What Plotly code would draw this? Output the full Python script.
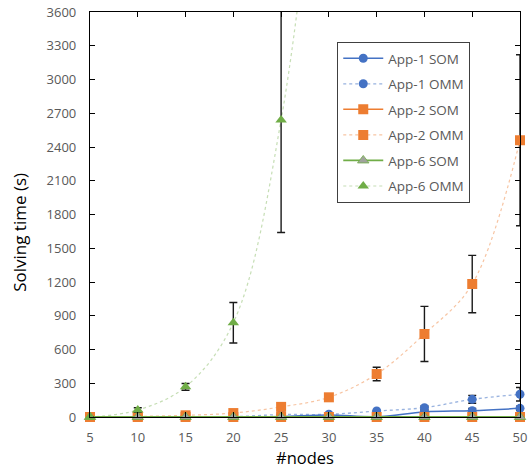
import plotly.graph_objects as go

nodes = [5, 10, 15, 20, 25, 30, 35, 40, 45, 50]

app1_som = [0, 0, 0, 1, 5, 18, 3, 45, 56, 77]
app1_som_err = [0, 0, 0, 0, 0, 0, 0, 10, 20, 20]
app1_omm = [0, 0, 1, 3, 22, 24, 53, 83, 157, 202]
app1_omm_err = [0, 0, 0, 0, 0, 0, 0, 15, 35, 60]

app2_som = [0, 0, 0, 0, 0, 0, 0, 0, 0, 0]
app2_omm = [0, 5, 15, 35, 90, 175, 382, 738, 1182, 2460]
app2_omm_err = [0, 0, 0, 0, 0, 0, 60, 245, 255, 760]

app6_som = [0, 0, 0, 0, 0, 0, 0, 0, 0, 0]
app6_omm = [0, 62, 268, 838, 2640, 6200]
app6_omm_err = [0, 20, 30, 180, 1000, 0]

y_ticks = [0, 300, 600, 900, 1200, 1500, 1800, 2100, 2400, 2700, 3000, 3300, 3600]
y_max = 3600

BLUE = "#4472C4"
ORANGE = "#ED7D31"
GREEN = "#70AD47"

fig = go.Figure()

def err(arr):
    return dict(type="data", array=arr, visible=True, color="#1a1a1a", thickness=1.4, width=4)

def add(name, x, y, color, symbol, dash, lw, lcolor, e=None, mcolor=None, mline=None):
    vis_x = [a for a, b in zip(x, y) if b <= y_max]
    vis_y = [b for b in y if b <= y_max]
    msize = 10 if symbol != "circle" else 9
    fig.add_trace(go.Scatter(
        x=x, y=y, mode="lines", line=dict(color=lcolor, width=lw, dash=dash, shape="spline", smoothing=1.0),
        showlegend=False, hoverinfo="skip", legendgroup=name))
    fig.add_trace(go.Scatter(
        x=vis_x, y=vis_y, mode="markers", name=name, legendgroup=name,
        marker=dict(symbol=symbol, size=msize, color=mcolor or color,
                    line=mline or dict(width=0)),
        error_y=err(e[:len(vis_x)]) if e else None,
        cliponaxis=False, showlegend=False))
    fig.add_trace(go.Scatter(
        x=[None], y=[None], mode="lines+markers", name=name, legendgroup=name,
        line=dict(color=lcolor, width=max(lw, 1.2), dash=dash),
        marker=dict(symbol=symbol, size=msize, color=mcolor or color,
                    line=mline or dict(width=0))))

add("App-1 SOM", nodes, app1_som, BLUE, "circle", "solid", 1.5, BLUE, app1_som_err)
add("App-1 OMM", nodes, app1_omm, BLUE, "circle", "dot", 1.3, "rgba(68,114,196,0.55)", app1_omm_err)
add("App-2 SOM", nodes, app2_som, ORANGE, "square", "solid", 1.5, ORANGE)
add("App-2 OMM", nodes, app2_omm, ORANGE, "square", "dot", 1.2, "rgba(237,125,49,0.45)", app2_omm_err)
add("App-6 SOM", nodes, app6_som, GREEN, "triangle-up", "solid", 1.8, GREEN,
    mcolor="#A0A39C", mline=dict(color="rgba(112,173,71,0.8)", width=1))
add("App-6 OMM", nodes[:len(app6_omm)], app6_omm, GREEN, "triangle-up", "dot", 1.2, "rgba(112,173,71,0.4)", app6_omm_err)

tickfont = dict(family="Open Sans, Liberation Sans, sans-serif", size=13, color="#595959")
titlefont = dict(family="Open Sans, Liberation Sans, sans-serif", size=16.5, color="black")
fig.update_layout(
    width=528, height=468,
    margin=dict(l=90, r=8, t=12, b=51),
    paper_bgcolor="white", plot_bgcolor="white",
    font=dict(family="Open Sans, Liberation Sans, sans-serif"),
    legend=dict(x=0.575, y=0.926, xanchor="left", yanchor="top",
                bordercolor="#404040", borderwidth=1, bgcolor="white",
                font=dict(size=13.5, color="#595959"), tracegroupgap=5,
                traceorder="grouped", itemwidth=40),
    xaxis=dict(range=[5, 50], tickvals=nodes, showline=True, linecolor="black", linewidth=1.2,
               mirror="ticks", ticks="inside", ticklen=5, tickcolor="black", showgrid=False,
               zeroline=False, tickfont=tickfont, ticklabelstandoff=8, automargin=False),
    yaxis=dict(range=[0, y_max], tickvals=y_ticks, showline=True, linecolor="black", linewidth=1.2,
               mirror="ticks", ticks="inside", ticklen=5, tickcolor="black", showgrid=False,
               zeroline=False, tickfont=tickfont, ticklabelstandoff=10, automargin=False),
    annotations=[
        dict(text="#nodes", xref="paper", yref="paper", x=0.5, y=-0.099, xanchor="center",
             yanchor="middle", showarrow=False, font=titlefont, borderpad=0),
        dict(text="Solving time (s)", xref="paper", yref="paper", x=-0.163, y=0.457,
             xanchor="center", yanchor="middle", textangle=-90, showarrow=False,
             font=dict(family="Open Sans, Liberation Sans, sans-serif", size=17, color="black")),
    ],
)

fig.write_html("out.html")
